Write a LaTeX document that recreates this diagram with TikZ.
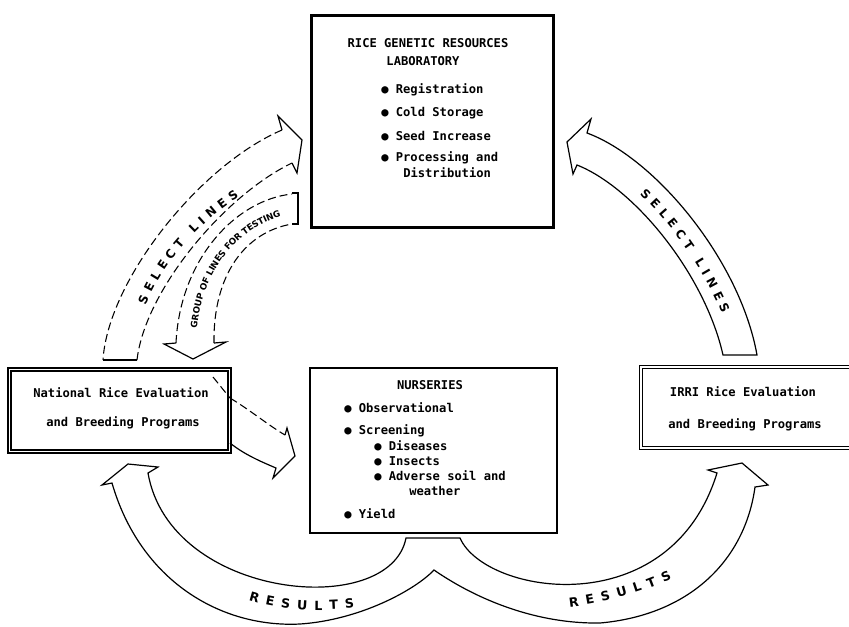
\documentclass[tikz,border=0pt]{standalone}
\usepackage{fontspec}
\usetikzlibrary{decorations.text}
\newfontfamily\boxfont{DejaVu Sans Mono}
\newfontfamily\arcfont{DejaVu Sans}
\newcommand\lsA{\hspace{3.8pt}}
\newcommand\lsB{\hspace{10pt}}
\newcommand\lsC{\hspace{5.2pt}}
\begin{document}
\begin{tikzpicture}[x=0.75pt,y=-0.75pt,
  boxtxt/.style={font=\boxfont\bfseries\fontsize{9.1}{11}\selectfont, inner sep=0pt, anchor=west},
  boxtitle/.style={font=\boxfont\bfseries\fontsize{9.1}{11}\selectfont, inner sep=0pt},
  labbox/.style={draw, line width=2.25pt, inner sep=0pt},
  nurbox/.style={draw, line width=1.5pt, inner sep=0pt},
  progbox/.style={draw, double, line width=0.9pt, double distance=1.4pt, inner sep=0pt},
  band/.style={line width=0.9pt, line join=miter},
  faint/.style={line width=0.8pt, dash pattern=on 6pt off 3pt},
  arclabel/.style={decorate, decoration={text along path, text align=center, raise=-3.2pt}}
]
\useasboundingbox (0,0) rectangle (849,626);
\fill[white] (0,0) rectangle (849,626);

% ---------- boxes ----------
\node[labbox, minimum width=181.5pt, minimum height=159pt] (lab) at (432,121) {};
\node[boxtitle] (labt1) at (428,43) {RICE GENETIC RESOURCES};
\node[boxtitle] (labt2) at (423,61) {LABORATORY};
\node[boxtxt] (lab1) at (381,90) {● Registration};
\node[boxtxt] (lab2) at (381,113) {● Cold Storage};
\node[boxtxt] (lab3) at (381,136) {● Seed Increase};
\node[boxtxt] (lab4) at (381,158) {● Processing and};
\node[boxtxt] (lab5) at (403,173) {Distribution};

\node[nurbox, minimum width=185.25pt, minimum height=123.75pt] (nur) at (433.5,450.5) {};
\node[boxtitle] (nurt) at (430,385) {NURSERIES};
\node[boxtxt] (nur1) at (344,408) {● Observational};
\node[boxtxt] (nur2) at (344,431) {● Screening};
\node[boxtxt] (nur3) at (374,446) {● Diseases};
\node[boxtxt] (nur4) at (374,461) {● Insects};
\node[boxtxt] (nur5) at (374,476) {● Adverse soil and};
\node[boxtxt] (nur6) at (409,491) {weather};
\node[boxtxt] (nur7) at (344,514) {● Yield};

\node[progbox, minimum width=165pt, minimum height=61.5pt] (nat) at (119.5,410.5) {};
\node[boxtitle] (nat1) at (121,393) {National Rice Evaluation};
\node[boxtitle] (nat2) at (123,423) {and Breeding Programs};

\node[progbox, minimum width=179.25pt, minimum height=60.75pt] (irri) at (760.5,407.5) {};
\node[boxtitle] (irri1) at (743,392) {IRRI Rice Evaluation};
\node[boxtitle] (irri2) at (745,425) {and Breeding Programs};

% ---------- left SELECT LINES arrow ----------
\fill[white] (103,360) .. controls (108,280) and (200,165) .. (282,130) -- (278,116) -- (302,140) -- (297,173) -- (292,163) .. controls (225,195) and (145,290) .. (137,360) -- cycle;
\draw[faint] (282,130) .. controls (200,165) and (108,280) .. (103,360);
\draw[band] (103,360) -- (137,360);
\draw[faint] (137,360) .. controls (145,290) and (225,195) .. (292,163);
\draw[band] (282,130) -- (278,116) -- (302,140) -- (297,173) -- (292,163);
\path[arclabel, decoration={text={|\arcfont\bfseries\fontsize{9}{10}\selectfont|S{\lsA}E{\lsA}L{\lsA}E{\lsA}C{\lsA}T{\lsB}L{\lsA}I{\lsA}N{\lsA}E{\lsA}S}}]
  (130,342) .. controls (145,265) and (205,205) .. (272,174);

% ---------- GROUP OF LINES FOR TESTING arrow ----------
\fill[white] (297,193) .. controls (235,200) and (180,260) .. (176,343) -- (164,344) -- (193,359) -- (226,342) -- (214,343) .. controls (213,275) and (245,232) .. (297,224) -- cycle;
\draw[faint] (176,343) .. controls (180,260) and (235,200) .. (292,194);
\draw[faint] (214,343) .. controls (213,275) and (245,232) .. (292,224);
\draw[band] (292,193) -- (298,193) -- (298,224) -- (292,224);
\draw[band] (176,343) -- (164,344) -- (193,359) -- (226,342) -- (214,343);
\path[arclabel, decoration={raise=-2.3pt, text={|\arcfont\bfseries\fontsize{6.6}{8}\selectfont|GROUP OF LINES FOR TESTING}}]
  (193,344) .. controls (194,268) and (240,218) .. (296,210);

% ---------- right SELECT LINES arrow ----------
\draw[band, fill=white] (757,355) .. controls (740,260) and (655,158) .. (587,133) -- (591,119) -- (567,142) -- (573,174) -- (577,165) .. controls (635,188) and (705,275) .. (723,355) -- cycle;
\path[arclabel, decoration={text={|\arcfont\bfseries\fontsize{9}{10}\selectfont|S{\lsA}E{\lsA}L{\lsA}E{\lsA}C{\lsA}T{\lsB}L{\lsA}I{\lsA}N{\lsA}E{\lsA}S}}]
  (615,170) .. controls (668,203) and (722,285) .. (737,345);

% ---------- National -> Nurseries arrow ----------
\draw[faint] (213,377) -- (230,398);
\draw[faint] (230,398) .. controls (250,410) and (268,425) .. (285,435);
\draw[band] (285,435) -- (287,428) -- (295,456) -- (273,478) -- (276,468) .. controls (262,462) and (245,455) .. (230,443);

% ---------- RESULTS arrows ----------
\draw[band, fill=white] (406,538) -- (460,538) .. controls (485,595) and (670,625) .. (717,473) -- (708,470) -- (742,463) -- (768,485) -- (755,487)
  .. controls (745,560) and (690,615) .. (600,623) .. controls (530,624) and (470,595) .. (434,570)
  .. controls (415,590) and (360,620) .. (300,624) .. controls (220,628) and (140,580) .. (112,483)
  -- (102,485) -- (128,464) -- (158,467) -- (148,473) .. controls (170,600) and (390,620) .. (406,538) -- cycle;
\path[arclabel, decoration={raise=-3.4pt, text={|\arcfont\bfseries\fontsize{9.5}{11}\selectfont|R{\lsC}E{\lsC}S{\lsC}U{\lsC}L{\lsC}T{\lsC}S}}]
  (223,584) .. controls (258,606) and (328,612) .. (383,598);
\path[arclabel, decoration={raise=-3.4pt, text={|\arcfont\bfseries\fontsize{9.5}{11}\selectfont|R{\lsC}E{\lsC}S{\lsC}U{\lsC}L{\lsC}T{\lsC}S}}]
  (535,604) .. controls (580,606) and (650,590) .. (700,558);
\end{tikzpicture}
\end{document}
